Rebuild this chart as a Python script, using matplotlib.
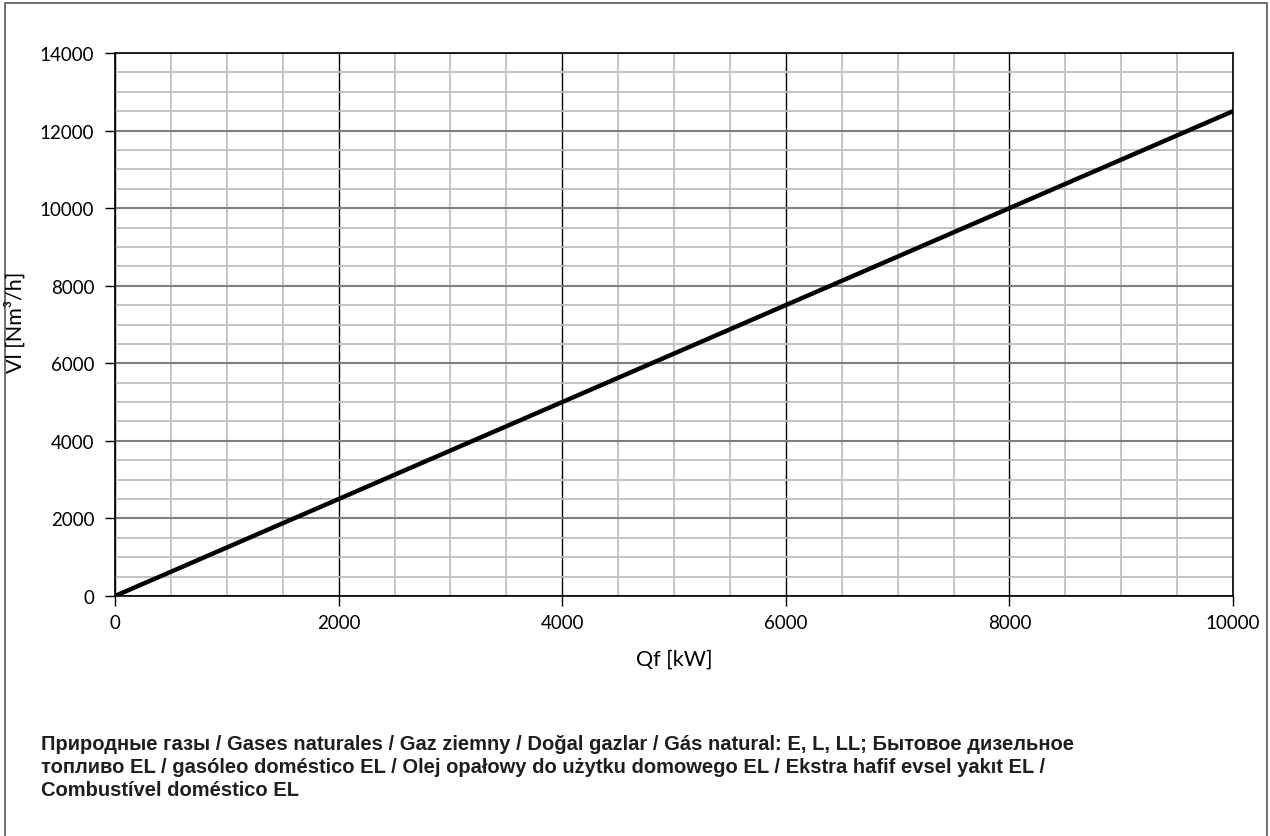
import numpy as np
import matplotlib
matplotlib.use("Agg")
import matplotlib.pyplot as plt
from matplotlib.lines import Line2D

# data
qf = [0, 10000]
vl = [0, 12500]
x_major = [0, 2000, 4000, 6000, 8000, 10000]
y_major = [0, 2000, 4000, 6000, 8000, 10000, 12000, 14000]
note_lines = [
    "Природные газы / Gases naturales / Gaz ziemny / Doğal gazlar / Gás natural: E, L, LL; Бытовое дизельное",
    "топливо EL / gasóleo doméstico EL / Olej opałowy do użytku domowego EL / Ekstra hafif evsel yakıt EL /",
    "Combustível doméstico EL",
]

fig = plt.figure(figsize=(12.7, 8.37), dpi=100)
ax = fig.add_axes([115/1270, 1-597/837, (1233-115)/1270, (597-54)/837])

ax.plot(qf, vl, color="black", lw=3.2, solid_capstyle="butt", zorder=5)

ax.set_xlim(0, 10000)
ax.set_ylim(0, 14000)
ax.set_xticks(x_major)
ax.set_yticks(y_major)
ax.set_xticks(np.arange(0, 10001, 500), minor=True)
ax.set_yticks(np.arange(0, 14001, 500), minor=True)

ax.grid(which="minor", color="#bfbfbf", lw=1.3)
ax.grid(which="major", axis="x", color="black", lw=1.0)
ax.grid(which="major", axis="y", color="#7f7f7f", lw=1.5)
ax.set_axisbelow(True)

for s in ax.spines.values():
    s.set_color("black")
    s.set_linewidth(1.2)

tick_font = "Lato"
ax.tick_params(which="major", direction="out", length=7, width=1, color="black",
               labelsize=13.5)
ax.tick_params(which="minor", length=0)
ax.tick_params(axis="y", pad=8)
ax.tick_params(axis="x", pad=6)
for lab in ax.get_xticklabels() + ax.get_yticklabels():
    lab.set_fontfamily(tick_font)

ax.set_xlabel("Qf [kW]", fontsize=15.5, family=tick_font, labelpad=13)
fig.text(15/1270, 1-322/837, "Vl [Nm³/h]", fontsize=15.5, family=tick_font,
         rotation=90, ha="center", va="center")

for i, t in enumerate(note_lines):
    fig.text(41/1270, 1-(745+23*i)/837, t, fontsize=14.5, fontweight="bold",
             family=["Liberation Sans", "DejaVu Sans"], color="#1e1e1e", va="center")

# frame around the figure (bottom edge is cut off)
fx = [4.5/1270, 4.5/1270, 1266.5/1270, 1266.5/1270]
fy = [0, 1-3.5/837, 1-3.5/837, 0]
fig.add_artist(Line2D(fx, fy, transform=fig.transFigure, color="#555555", lw=1.2))

fig.savefig("out.png", dpi=100)
